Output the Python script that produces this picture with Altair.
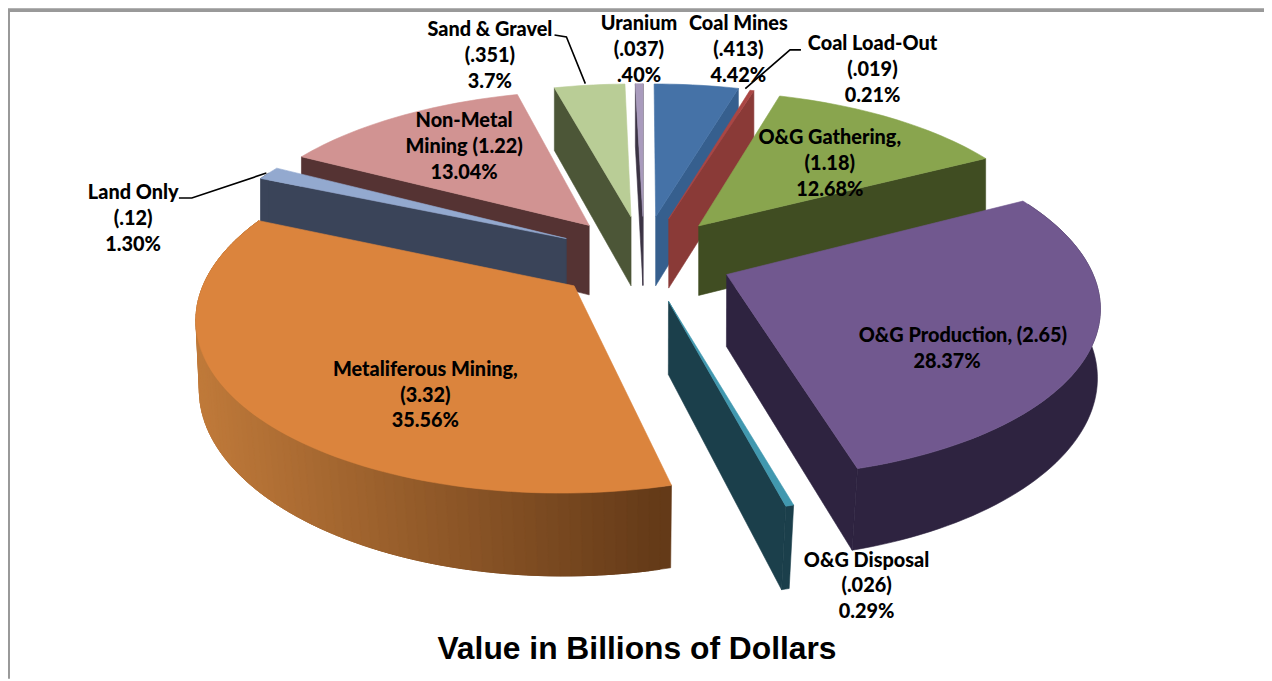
import math
import altair as alt

# ---- chart values, clockwise from 12 o'clock ----
names = ["Coal Mines", "Coal Load-Out", "O&G Gathering", "O&G Production", "O&G Disposal",
         "Metaliferous Mining", "Land Only", "Non-Metal Mining", "Sand & Gravel", "Uranium"]
billions = [0.413, 0.019, 1.18, 2.65, 0.026, 3.32, 0.12, 1.22, 0.351, 0.037]
percents = [4.42, 0.21, 12.68, 28.37, 0.29, 35.56, 1.30, 13.04, 3.7, 0.40]
top_colors = ["#4572A7", "#AA4643", "#89A54E", "#71588F", "#4198AF",
              "#DB843D", "#93A9CF", "#D19392", "#B9CD96", "#A99BBD"]
side_colors = ["#365F8E", "#8A3A37", "#404D22", "#2E2340", "#1B3F4B",
               "#6B3F1A", "#3A4459", "#553333", "#4C5637", "#3B3344"]
label_lines = [
    ["Coal Mines", "(.413)", "4.42%"],
    ["Coal Load-Out", "(.019)", "0.21%"],
    ["O&G Gathering,", "(1.18)", "12.68%"],
    ["O&G Production, (2.65)", "28.37%"],
    ["O&G Disposal", "(.026)", "0.29%"],
    ["Metaliferous Mining,", "(3.32)", "35.56%"],
    ["Land Only", "(.12)", "1.30%"],
    ["Non-Metal", "Mining (1.22)", "13.04%"],
    ["Sand & Gravel", "(.351)", "3.7%"],
    ["Uranium", "(.037)", ".40%"],
]
title_text = "Value in Billions of Dollars"

# ---- layout / style (page pixels) ----
OX, OY = 8, 8
CX, CY, A, B, K, EXPLODE = 645.0, 255.0, 368.0, 166.0, 0.159, 0.24
draw_order = [9, 8, 0, 1, 2, 7, 6, 3, 5, 4]
nudge_x = [3, 4, 4, 5, 4, 1, 3, 1, 2, 3]
nudge_y = [-1, 0, 0, 3, 6, 4, 0, 0, -1, -1]
width_factor = [1, 1, 0.99, 0.987, 1, 0.99, 1, 1, 1, 1]
label_pos = [(743, 22), (878, 42), (835, 137), (969, 336), (872, 562),
             (428, 370), (134, 192), (467, 120), (493, 28), (643, 22)]
line_gap = 26
leaders = [[(180, 197), (193, 197), (268, 172)],
           [(558, 33), (570, 35), (589, 82)],
           [(806, 48), (795, 48), (750, 87)]]


def project(u, v, i):
    w = 1 + K * v
    return CX + nudge_x[i] + A * width_factor[i] * u / w, CY + nudge_y[i] - B * v / w


def drop(p):
    x, y = p
    shrink = 1 - 0.025 * max(0.0, (y - 250) / 220)
    return CX + (x - CX) * shrink, y + 63 + 0.05 * (y - 86)


def page(points):
    return [[round(x - OX, 2), round(y - OY, 2)] for x, y in points]


def poly(points, fill):
    ring = page(points)
    ring.append(ring[0])
    return {"type": "Feature", "properties": {"fill": fill},
            "geometry": {"type": "Polygon", "coordinates": [ring]}}


def mix(c1, c2, t):
    a = [int(c1[i:i + 2], 16) for i in (1, 3, 5)]
    b = [int(c2[i:i + 2], 16) for i in (1, 3, 5)]
    return "#%02x%02x%02x" % tuple(round(p + (q - p) * t) for p, q in zip(a, b))


total = sum(percents)
bounds = [0.0]
for p in percents:
    bounds.append(bounds[-1] + 360.0 * p / total)

features = []
for i in draw_order:
    a0, a1 = bounds[i], bounds[i + 1]
    mid = math.radians((a0 + a1) / 2)
    eu, ev = EXPLODE * math.sin(mid), EXPLODE * math.cos(mid)
    n = max(2, int((a1 - a0) / 1.5) + 1)
    angles = [a0 + (a1 - a0) * j / n for j in range(n + 1)]
    rim = [project(eu + math.sin(math.radians(t)), ev + math.cos(math.radians(t)), i) for t in angles]
    apex = project(eu, ev, i)
    # radial faces that turn toward the viewer
    if math.sin(math.radians(a1)) > 0:
        features.append(poly([apex, rim[-1], drop(rim[-1]), drop(apex)], side_colors[i]))
    if math.sin(math.radians(a0)) < 0:
        features.append(poly([apex, rim[0], drop(rim[0]), drop(apex)], side_colors[i]))
    # outer wall: the top face is painted afterwards and hides its far part
    front = [j for j in range(n + 1) if math.cos(math.radians(angles[j])) < 0.45]
    if front:
        if names[i] == "Metaliferous Mining":
            # colour bands, each overlapping the next so no seam shows
            for j in front[:-1]:
                t = min(1, max(0, (rim[j][0] - 195) / 475))
                band = rim[j:min(j + 3, front[-1]) + 1]
                features.append(poly(band + [drop(p) for p in reversed(band)],
                                     mix("#C07A3A", "#643A18", t)))
        else:
            band = [rim[j] for j in front]
            features.append(poly(band + [drop(p) for p in reversed(band)], side_colors[i]))
    features.append(poly([apex] + rim, top_colors[i]))

pie = alt.Chart(alt.Data(values=features)).mark_geoshape(strokeWidth=0.6).encode(
    fill=alt.Fill("properties.fill:N", scale=None, legend=None),
    stroke=alt.Stroke("properties.fill:N", scale=None, legend=None),
).project(type="identity", scale=1, translate=[0, 0])

leader_rows = []
for k, path in enumerate(leaders):
    for o, (x, y) in enumerate(page(path)):
        leader_rows.append({"k": k, "o": o, "x": x, "y": y})
leader_chart = alt.Chart(alt.Data(values=leader_rows)).mark_line(color="black", strokeWidth=1.6).encode(
    x=alt.X("x:Q", scale=None, axis=None),
    y=alt.Y("y:Q", scale=None, axis=None),
    detail="k:N", order="o:Q")

frame_rows = [{"k": 0, "o": 0, "x": 0, "y": 0}, {"k": 0, "o": 1, "x": 1264, "y": 0},
              {"k": 1, "o": 0, "x": 0, "y": 0}, {"k": 1, "o": 1, "x": 0, "y": 673}]
frame = alt.Chart(alt.Data(values=frame_rows)).mark_line(color="#999999", strokeWidth=4).encode(
    x=alt.X("x:Q", scale=None, axis=None),
    y=alt.Y("y:Q", scale=None, axis=None),
    detail="k:N", order="o:Q")

text_rows = []
for lines, (x, y) in zip(label_lines, label_pos):
    for m, line in enumerate(lines):
        dx = -16 if line == "28.37%" else 0
        text_rows.append({"t": line, "x": x - OX + dx, "y": y - OY + m * line_gap})
labels = alt.Chart(alt.Data(values=text_rows)).mark_text(
    font="Lato", fontWeight=900, fontSize=20, color="black", align="center", baseline="middle"
).encode(
    x=alt.X("x:Q", scale=None, axis=None),
    y=alt.Y("y:Q", scale=None, axis=None),
    text="t:N")

title = alt.Chart(alt.Data(values=[{"t": title_text, "x": 641 - OX, "y": 651 - OY}])).mark_text(
    font="Liberation Sans", fontWeight="bold", fontSize=32, color="black", align="center", baseline="middle"
).encode(
    x=alt.X("x:Q", scale=None, axis=None),
    y=alt.Y("y:Q", scale=None, axis=None),
    text="t:N")

chart = alt.layer(frame, pie, leader_chart, labels, title).properties(
    width=1264, height=673, padding=0, background="white",
    autosize=alt.AutoSizeParams(type="none")
).configure_view(stroke=None)

chart.save("out.html", embed_options={"renderer": "svg", "actions": False})
